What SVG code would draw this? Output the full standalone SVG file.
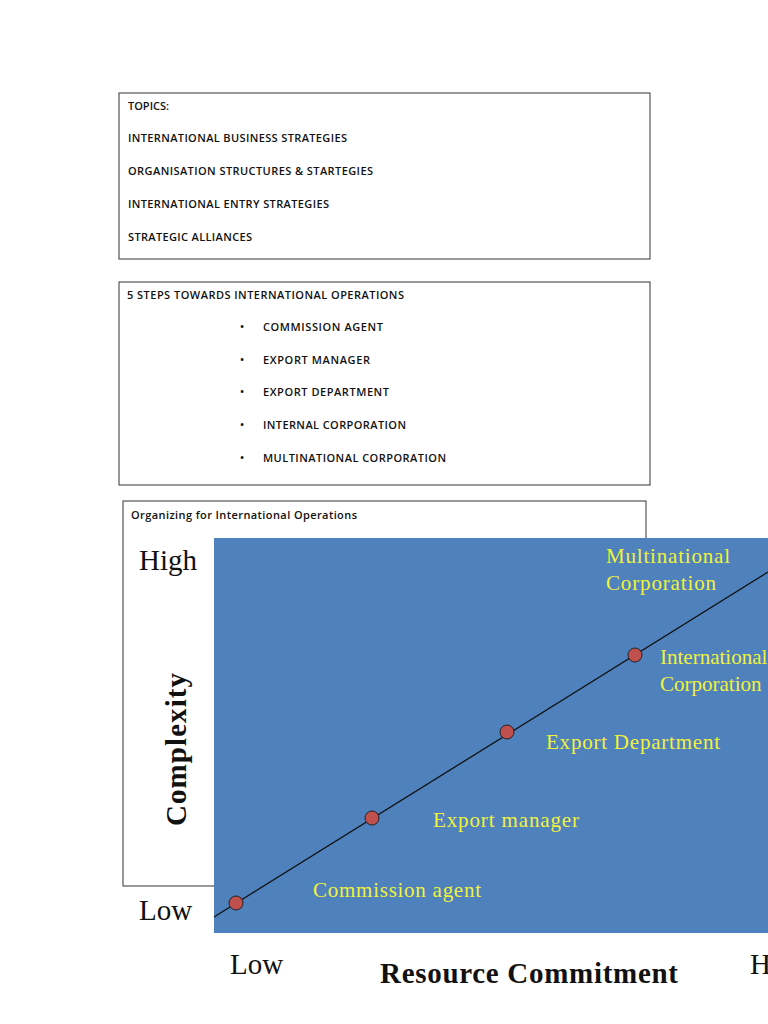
<svg xmlns="http://www.w3.org/2000/svg" width="768" height="1024" viewBox="0 0 768 1024">
<style>
.box{fill:#fff;stroke:#333;stroke-width:1}
.s{font-family:"Open Sans","Liberation Sans",sans-serif;font-size:11px;fill:#111;font-weight:600}
.ser{font-family:"Liberation Serif",serif;fill:#111}
.y{font-family:"Liberation Serif",serif;font-size:21px;fill:#f2f23a}
.dot{fill:#c0504d;stroke:#222;stroke-width:1}
</style>
<rect width="768" height="1024" fill="#fff"/>
<g id="topics">
<rect class="box" x="119" y="93" width="531" height="166"/>
<text class="s" x="128" y="110">TOPICS:</text>
<text class="s" x="128" y="142" textLength="219">INTERNATIONAL BUSINESS STRATEGIES</text>
<text class="s" x="128" y="175" textLength="245">ORGANISATION STRUCTURES &amp; STARTEGIES</text>
<text class="s" x="128" y="208" textLength="201">INTERNATIONAL ENTRY STRATEGIES</text>
<text class="s" x="128" y="241" textLength="124">STRATEGIC ALLIANCES</text>
</g>
<g id="steps">
<rect class="box" x="119" y="282" width="531" height="203"/>
<text class="s" x="127" y="299" textLength="277">5 STEPS TOWARDS INTERNATIONAL OPERATIONS</text>
<g class="s">
<text x="240" y="331">•</text><text x="263" y="331" textLength="120">COMMISSION AGENT</text>
<text x="240" y="364">•</text><text x="263" y="364" textLength="107">EXPORT MANAGER</text>
<text x="240" y="396">•</text><text x="263" y="396" textLength="126">EXPORT DEPARTMENT</text>
<text x="240" y="429">•</text><text x="263" y="429" textLength="143">INTERNAL CORPORATION</text>
<text x="240" y="462">•</text><text x="263" y="462" textLength="183">MULTINATIONAL CORPORATION</text>
</g>
</g>
<g id="chart">
<rect class="box" x="123" y="501" width="523" height="385"/>
<text class="s" x="131" y="519" textLength="226">Organizing for International Operations</text>
<rect x="214" y="538" width="554" height="395" fill="#4f81bd"/>
<text class="ser" x="139" y="570" font-size="29">High</text>
<text class="ser" x="139" y="920" font-size="29">Low</text>
<text class="ser" x="230" y="974" font-size="29">Low</text>
<text class="ser" x="750" y="974" font-size="29">H</text>
<text class="ser" x="380" y="983" font-size="29" font-weight="bold" textLength="298">Resource Commitment</text>
<text class="ser" transform="translate(186,826) rotate(-90)" font-size="29" font-weight="bold" textLength="153">Complexity</text>
<g id="connectors"><line x1="214" y1="917" x2="768" y2="572" stroke="#111" stroke-width="1.3"/></g>
<circle class="dot" cx="236" cy="903" r="7"/>
<circle class="dot" cx="372" cy="818" r="7"/>
<circle class="dot" cx="507" cy="732" r="7"/>
<circle class="dot" cx="635" cy="655" r="7"/>
<text class="y" x="313" y="897" textLength="168">Commission agent</text>
<text class="y" x="433" y="827" textLength="146">Export manager</text>
<text class="y" x="546" y="749" textLength="174">Export Department</text>
<text class="y" x="660" y="664">International</text>
<text class="y" x="660" y="691">Corporation</text>
<text class="y" x="606" y="563" textLength="124">Multinational</text>
<text class="y" x="606" y="590" textLength="110">Corporation</text>
</g>
</svg>
